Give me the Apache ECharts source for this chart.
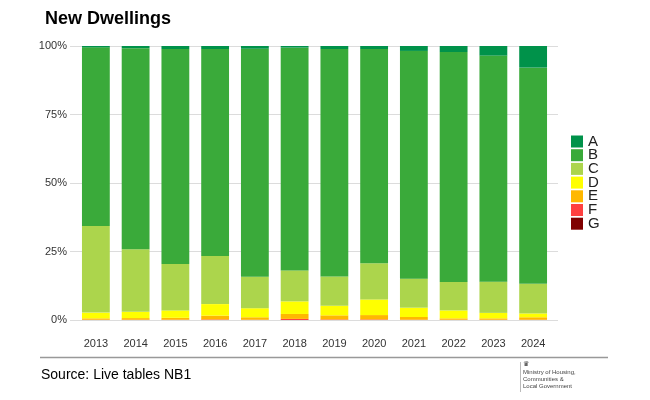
<!DOCTYPE html>
<html>
<head>
<meta charset="utf-8">
<script src="https://cdn.jsdelivr.net/npm/echarts@6/dist/echarts.min.js"></script>
<style>
  html, body { margin: 0; padding: 0; background: #fff; }
  #chart { width: 650px; height: 400px; }
</style>
</head>
<body>
<div id="chart"></div>
<script>
// years and the share (%) of each EPC band
const years = ['2013', '2014', '2015', '2016', '2017', '2018', '2019', '2020', '2021', '2022', '2023', '2024']
const bandA = [0.5, 0.8, 1.1, 1.1, 1.0, 0.6, 1.1, 1.1, 1.8, 2.2, 3.5, 7.9]
const bandB = [65.2, 73.4, 78.5, 75.5, 83.2, 81.3, 83.0, 78.2, 83.1, 83.9, 82.5, 78.9]
const bandC = [31.6, 22.8, 16.9, 17.6, 11.5, 11.3, 10.7, 13.2, 10.6, 10.4, 11.4, 10.8]
const bandD = [2.1, 2.3, 2.7, 4.2, 3.3, 4.6, 3.5, 5.7, 3.4, 2.9, 2.0, 1.4]
const bandE = [0.5, 0.6, 0.7, 1.4, 0.9, 1.8, 1.5, 1.6, 1.0, 0.5, 0.5, 0.9]
const bandF = [0.1, 0.1, 0.1, 0.2, 0.1, 0.4, 0.2, 0.2, 0.1, 0.1, 0.1, 0.1]
const bandG = [0, 0, 0, 0, 0, 0, 0, 0, 0, 0, 0, 0]
const yTicks = [0, 25, 50, 75, 100]

const chart = echarts.init(document.getElementById('chart'))

// bottom of the stack first
const bands = [
  { name: 'G', data: bandG, color: '#800000' },
  { name: 'F', data: bandF, color: '#ff4040' },
  { name: 'E', data: bandE, color: '#ffb800' },
  { name: 'D', data: bandD, color: '#ffff00' },
  { name: 'C', data: bandC, color: '#acd54c' },
  { name: 'B', data: bandB, color: '#3aaa3a' },
  { name: 'A', data: bandA, color: '#00924a' }
]

const font = 'Liberation Sans, Arial, sans-serif'

const option = {
  animation: false,
  textStyle: { fontFamily: font },
  title: {
    text: 'New Dwellings',
    left: 40,
    top: 5,
    textStyle: { fontSize: 18, fontWeight: 'bold', color: '#000', fontFamily: font }
  },
  legend: {
    orient: 'vertical',
    left: 571,
    top: 134,
    padding: 0,
    itemWidth: 12,
    itemHeight: 12,
    itemGap: -1.3,
    icon: 'rect',
    data: ['A', 'B', 'C', 'D', 'E', 'F', 'G'],
    textStyle: { fontSize: 15, color: '#222' }
  },
  // grid 0 holds the bars, grid 1 only draws the wider gridlines and y labels
  grid: [
    { left: 76, width: 477, top: 46, height: 274 },
    { left: 70, width: 488, top: 46, height: 274 }
  ],
  xAxis: [
    {
      type: 'category',
      gridIndex: 0,
      data: years,
      axisLine: { show: false },
      axisTick: { show: false },
      axisLabel: { margin: 18, fontSize: 11, color: '#333' }
    },
    {
      type: 'value',
      gridIndex: 1,
      show: false,
      min: 0,
      max: 1
    }
  ],
  yAxis: [
    {
      type: 'value',
      gridIndex: 0,
      min: 0,
      max: 100,
      show: false
    },
    {
      type: 'value',
      gridIndex: 1,
      min: yTicks[0],
      max: yTicks[yTicks.length - 1],
      interval: 25,
      axisLine: { show: false },
      axisTick: { show: false },
      axisLabel: { formatter: '{value}%', fontSize: 11, color: '#333', margin: 3 },
      splitLine: { lineStyle: { color: '#dcdcdc', width: 1 } }
    }
  ],
  series: bands.map((b) => ({
    name: b.name,
    type: 'bar',
    stack: 'total',
    xAxisIndex: 0,
    yAxisIndex: 0,
    barWidth: '70%',
    data: b.data,
    itemStyle: { color: b.color },
    emphasis: { disabled: true }
  })),
  graphic: [
    {
      type: 'line',
      shape: { x1: 40, y1: 357.5, x2: 608, y2: 357.5 },
      style: { stroke: '#999', lineWidth: 1.5 }
    },
    {
      type: 'text',
      left: 41,
      top: 368,
      style: { text: 'Source: Live tables NB1', fontSize: 14, fill: '#000', fontFamily: font }
    },
    {
      type: 'line',
      shape: { x1: 520.5, y1: 362, x2: 520.5, y2: 392 },
      style: { stroke: '#bbb', lineWidth: 1 }
    },
    {
      type: 'text',
      left: 523,
      top: 361,
      style: { text: '♛', fontSize: 7, fill: '#333' }
    },
    {
      type: 'text',
      left: 523,
      top: 369,
      style: {
        text: 'Ministry of Housing,\nCommunities &\nLocal Government',
        fontSize: 6,
        lineHeight: 7,
        fill: '#444',
        fontFamily: font
      }
    }
  ]
}

chart.setOption(option)
</script>
</body>
</html>
